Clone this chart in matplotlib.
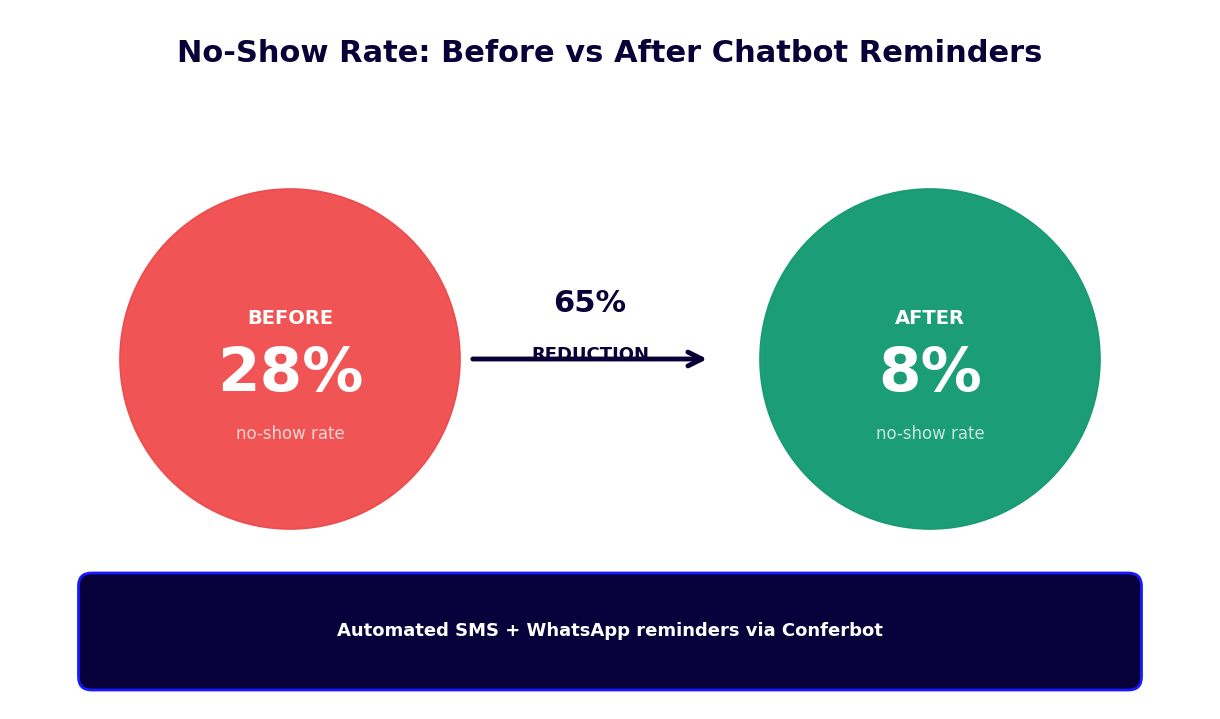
import matplotlib.pyplot as plt
from matplotlib.patches import Circle, FancyBboxPatch

# data
labels = ['BEFORE', 'AFTER']
rates = [28, 8]
circle_colors = ['#F05454', '#1B9E77']
edge_colors = ['#EC4C4F', '#199A73']
reduction = 65
sub_label = 'no-show rate'
title = 'No-Show Rate: Before vs After Chatbot Reminders'
banner = 'Automated SMS + WhatsApp reminders via Conferbot'

navy = '#0A0038'

fig = plt.figure(figsize=(12.2, 7.19), dpi=100)
ax = fig.add_axes([0, 0, 1, 1])
ax.set_xlim(0, 12.2)
ax.set_ylim(0, 7.19)
ax.set_aspect('equal')
ax.axis('off')

centers_x = [2.90, 9.30]
cy = 3.60
r = 1.70
for i in range(len(labels)):
    cx = centers_x[i]
    ax.add_patch(Circle((cx, cy), r, facecolor=circle_colors[i],
                        edgecolor=edge_colors[i], lw=1.2))
    ax.text(cx, cy + 0.40, labels[i], ha='center', va='center',
            fontsize=14, fontweight='bold', color='white')
    ax.text(cx, cy - 0.15, f'{rates[i]}%', ha='center', va='center',
            fontsize=44, fontweight='bold', color='white')
    ax.text(cx, cy - 0.75, sub_label, ha='center', va='center',
            fontsize=12, color='white', alpha=0.75)

# middle reduction label + arrow
ax.text(5.90, 4.15, f'{reduction}%', ha='center', va='center',
        fontsize=22, fontweight='bold', color=navy)
ax.text(5.90, 3.64, 'REDUCTION', ha='center', va='center',
        fontsize=13, fontweight='bold', color=navy)
ax.annotate('', xy=(7.10, 3.60), xytext=(4.70, 3.60),
            arrowprops=dict(arrowstyle='->', color=navy, lw=3.5,
                            mutation_scale=25))

# bottom banner
ax.add_patch(FancyBboxPatch((0.785, 0.29), 10.63, 1.17,
                            boxstyle='round,pad=0,rounding_size=0.13',
                            facecolor='#08003A', edgecolor='#1A1AFF', lw=2))
ax.text(6.10, 0.88, banner, ha='center', va='center',
        fontsize=13, fontweight='bold', color='white')

fig.text(0.5, 1 - 54 / 719, title, ha='center', va='center',
         fontsize=22, fontweight='bold', color=navy)

fig.savefig('out.png', dpi=100, facecolor='white')
